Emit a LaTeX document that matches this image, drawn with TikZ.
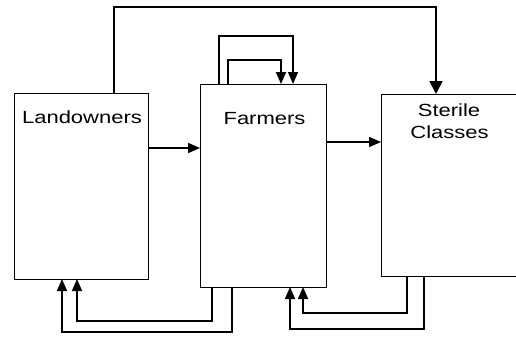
\documentclass[tikz,border=0pt]{standalone}
\usepackage{fontspec}
\usetikzlibrary{arrows.meta}
\newfontfamily\lblfont[FakeStretch=1.25]{Liberation Sans}
\begin{document}
\begin{tikzpicture}[x=1pt,y=-1pt,
  box/.style={draw, line width=0.9pt, inner sep=0pt, outer sep=0pt},
  lbl/.style={font=\lblfont\fontsize{17.6}{22}\selectfont, inner sep=0pt, anchor=base},
  arr/.style={line width=1.6pt, -{Triangle[length=12pt,width=10pt]}},
  bigarr/.style={line width=1.6pt, -{Triangle[length=13pt,width=13pt]}}]
\useasboundingbox (0,0) rectangle (516,337);
% boxes
\node[box, minimum width=134pt, minimum height=186pt] (L) at (81,186) {};
\node[box, minimum width=126pt, minimum height=203pt] (F) at (263,185.5) {};
\node[box, minimum width=137pt, minimum height=182pt] (S) at (449.5,185) {};
% labels
\node[lbl] (Lt) at (82,123) {Landowners};
\node[lbl] (Ft) at (264.5,124) {Farmers};
\node[lbl] (St1) at (449,116) {Sterile};
\node[lbl] (St2) at (449.5,138) {Classes};
% helper coordinates
\coordinate (t1) at (114,7);
\coordinate (t2) at (436,7);
\coordinate (o1) at (219,36);
\coordinate (o2) at (293,36);
\coordinate (i1) at (228,60);
\coordinate (i2) at (281,60);
\coordinate (h1) at (0,148);
\coordinate (h2) at (0,142);
\coordinate (b1) at (212,321);
\coordinate (b1e) at (77,321);
\coordinate (b2) at (232,332);
\coordinate (b2e) at (62,332);
\coordinate (c1) at (407,313);
\coordinate (c1e) at (303,313);
\coordinate (c2) at (424,329);
\coordinate (c2e) at (290,329);
% top connector
\draw[bigarr] (L.north -| t1) -- (t1) -- (t2) -- (S.north -| t2);
% self loops on farmers
\draw[arr] (F.north -| o1) -- (o1) -- (o2) -- (F.north -| o2);
\draw[arr] (F.north -| i1) -- (i1) -- (i2) -- (F.north -| i2);
% horizontal
\draw[arr] (L.east |- h1) -- (F.west |- h1);
\draw[arr] (F.east |- h2) -- (S.west |- h2);
% bottom farmers -> landowners
\draw[arr] (F.south -| b1) -- (b1) -- (b1e) -- (L.south -| b1e);
\draw[arr] (F.south -| b2) -- (b2) -- (b2e) -- (L.south -| b2e);
% bottom sterile -> farmers
\draw[arr] (S.south -| c1) -- (c1) -- (c1e) -- (F.south -| c1e);
\draw[arr] (S.south -| c2) -- (c2) -- (c2e) -- (F.south -| c2e);
\end{tikzpicture}
\end{document}
